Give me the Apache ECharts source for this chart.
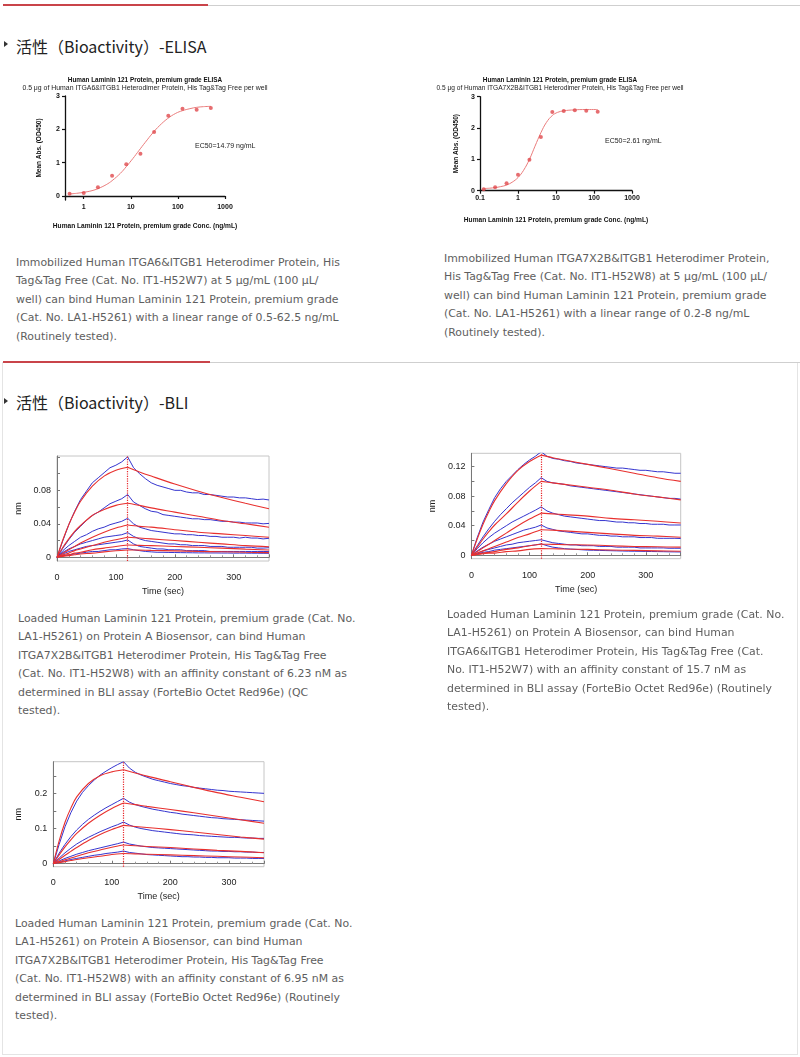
<!DOCTYPE html>
<html>
<head>
<meta charset="utf-8">
<script src="https://cdn.jsdelivr.net/npm/echarts@6/dist/echarts.min.js"></script>
<style>
  html, body { margin:0; padding:0; background:#fff; }
  body { width:800px; height:1057px; position:relative; overflow:hidden; }
  .abs { position:absolute; }
  .hdr { position:absolute; left:16px; font-family:"Noto Sans CJK SC", sans-serif; font-size:16px; line-height:24px; color:#222; white-space:nowrap; }
  .tri { position:absolute; width:0; height:0; border-left:4px solid #333; border-top:3px solid transparent; border-bottom:3px solid transparent; }
  .txt { position:absolute; font-family:"DejaVu Sans", sans-serif; font-size:10.9px; line-height:18.4px; color:#5e5e5e; white-space:nowrap; }
  .chart { position:absolute; }
</style>
</head>
<body>
<div class="abs" style="left:3px;top:4px;width:205px;height:2px;background:#c9444a;"></div>
<div class="abs" style="left:208px;top:5px;width:592px;height:1px;background:#cfcfcf;"></div>
<div class="tri" style="left:4px;top:41px;"></div>
<div class="hdr" style="top:34px;">活性（Bioactivity）-ELISA</div>

<div id="elisa1" class="chart" style="left:0;top:60px;width:290px;height:180px;"></div>
<div id="elisa2" class="chart" style="left:420px;top:60px;width:280px;height:180px;"></div>

<div class="txt" style="left:16px;top:254px;">Immobilized Human ITGA6&amp;ITGB1 Heterodimer Protein, His<br>Tag&amp;Tag Free (Cat. No. IT1-H52W7) at 5 μg/mL (100 μL/<br>well) can bind Human Laminin 121 Protein, premium grade<br>(Cat. No. LA1-H5261) with a linear range of 0.5-62.5 ng/mL<br>(Routinely tested).</div>
<div class="txt" style="left:444px;top:250px;">Immobilized Human ITGA7X2B&amp;ITGB1 Heterodimer Protein,<br>His Tag&amp;Tag Free (Cat. No. IT1-H52W8) at 5 μg/mL (100 μL/<br>well) can bind Human Laminin 121 Protein, premium grade<br>(Cat. No. LA1-H5261) with a linear range of 0.2-8 ng/mL<br>(Routinely tested).</div>

<div class="abs" style="left:2px;top:362px;width:794px;height:692px;border:1px solid #e4e4e4;border-top:none;"></div>
<div class="abs" style="left:3px;top:361px;width:207px;height:2px;background:#c9444a;"></div>
<div class="abs" style="left:210px;top:362px;width:590px;height:1px;background:#cfcfcf;"></div>
<div class="tri" style="left:4px;top:398px;"></div>
<div class="hdr" style="top:390px;">活性（Bioactivity）-BLI</div>

<div id="bli1" class="chart" style="left:0;top:440px;width:290px;height:170px;"></div>
<div id="bli2" class="chart" style="left:420px;top:440px;width:290px;height:170px;"></div>
<div id="bli3" class="chart" style="left:0;top:745px;width:290px;height:170px;"></div>

<div class="txt" style="left:18px;top:610px;">Loaded Human Laminin 121 Protein, premium grade (Cat. No.<br>LA1-H5261) on Protein A Biosensor, can bind Human<br>ITGA7X2B&amp;ITGB1 Heterodimer Protein, His Tag&amp;Tag Free<br>(Cat. No. IT1-H52W8) with an affinity constant of 6.23 nM as<br>determined in BLI assay (ForteBio Octet Red96e) (QC<br>tested).</div>
<div class="txt" style="left:447px;top:606px;">Loaded Human Laminin 121 Protein, premium grade (Cat. No.<br>LA1-H5261) on Protein A Biosensor, can bind Human<br>ITGA6&amp;ITGB1 Heterodimer Protein, His Tag&amp;Tag Free (Cat.<br>No. IT1-H52W7) with an affinity constant of 15.7 nM as<br>determined in BLI assay (ForteBio Octet Red96e) (Routinely<br>tested).</div>
<div class="txt" style="left:15px;top:915px;">Loaded Human Laminin 121 Protein, premium grade (Cat. No.<br>LA1-H5261) on Protein A Biosensor, can bind Human<br>ITGA7X2B&amp;ITGB1 Heterodimer Protein, His Tag&amp;Tag Free<br>(Cat. No. IT1-H52W8) with an affinity constant of 6.95 nM as<br>determined in BLI assay (ForteBio Octet Red96e) (Routinely<br>tested).</div>

<script>
// ---------------- ELISA data ----------------
const elisa1Conc = [0.5, 1, 2, 4, 8, 16, 31.25, 62.5, 125, 250, 500];
const elisa1OD   = [0.07, 0.09, 0.26, 0.61, 0.95, 1.27, 1.92, 2.41, 2.62, 2.59, 2.64];
const elisa1FitConc = [0.5, 0.7, 1, 1.5, 2, 3, 4, 6, 8, 11, 15, 20, 30, 40, 60, 90, 125, 180, 250, 350, 500];
const elisa1FitOD   = [0.06, 0.08, 0.11, 0.16, 0.22, 0.34, 0.46, 0.68, 0.88, 1.12, 1.37, 1.60, 1.91, 2.10, 2.32, 2.48, 2.56, 2.62, 2.66, 2.68, 2.69];
const elisa1YTicks = [0, 1, 2, 3];

const elisa2Conc = [0.125, 0.25, 0.5, 1, 2, 4, 8, 16, 31.25, 62.5, 125];
const elisa2OD   = [0.05, 0.11, 0.24, 0.51, 0.99, 1.71, 2.51, 2.54, 2.57, 2.55, 2.52];
const elisa2FitConc = [0.125, 0.18, 0.25, 0.35, 0.5, 0.7, 1, 1.4, 2, 2.8, 4, 5.6, 8, 11, 16, 30, 60, 125];
const elisa2FitOD   = [0.07, 0.08, 0.10, 0.13, 0.18, 0.27, 0.42, 0.65, 1.00, 1.42, 1.85, 2.18, 2.40, 2.50, 2.55, 2.58, 2.59, 2.59];
const elisa2YTicks = [0, 1, 2, 3];

// ---------------- BLI data ----------------
const bliTime = [0,10,20,30,40,50,60,70,80,90,100,110,120,130,140,150,160,170,180,190,200,210,220,230,240,250,260,270,280,290,300,310,320,330,340,350,360];
const bliFitTime = [0,10,20,30,40,60,80,100,120,140,160,200,240,280,320,360];
const bliSwitchTime = 120;

const bli1Blue = [
  [0,0.020,0.039,0.055,0.069,0.079,0.089,0.095,0.101,0.107,0.110,0.114,0.120,0.107,0.100,0.094,0.089,0.086,0.084,0.082,0.080,0.080,0.078,0.077,0.077,0.075,0.075,0.074,0.073,0.072,0.072,0.071,0.071,0.070,0.069,0.0695,0.0685],
  [0,0.011,0.021,0.030,0.037,0.044,0.050,0.054,0.059,0.064,0.067,0.070,0.075,0.066,0.062,0.058,0.055,0.054,0.051,0.050,0.049,0.048,0.047,0.046,0.046,0.045,0.045,0.044,0.043,0.043,0.042,0.042,0.041,0.041,0.041,0.040,0.0405],
  [0,0.008,0.014,0.019,0.024,0.027,0.031,0.034,0.036,0.039,0.041,0.043,0.0466,0.040,0.036,0.034,0.032,0.031,0.030,0.029,0.028,0.028,0.027,0.027,0.026,0.026,0.025,0.025,0.024,0.024,0.024,0.023,0.024,0.023,0.023,0.022,0.0227],
  [0,0.006,0.010,0.013,0.016,0.018,0.020,0.022,0.024,0.025,0.026,0.027,0.0295,0.025,0.022,0.020,0.019,0.018,0.017,0.016,0.016,0.015,0.015,0.014,0.014,0.014,0.013,0.013,0.013,0.012,0.012,0.012,0.012,0.012,0.011,0.011,0.0115],
  [0,0.004,0.007,0.009,0.011,0.013,0.014,0.015,0.016,0.017,0.018,0.019,0.0207,0.016,0.013,0.012,0.011,0.010,0.010,0.009,0.009,0.009,0.008,0.008,0.008,0.008,0.007,0.007,0.007,0.007,0.007,0.007,0.007,0.007,0.007,0.007,0.0068],
  [0,0.002,0.003,0.004,0.005,0.006,0.007,0.007,0.008,0.009,0.009,0.010,0.0104,0.009,0.008,0.007,0.0065,0.006,0.006,0.0058,0.0057,0.0056,0.0055,0.0054,0.0053,0.0053,0.0052,0.0052,0.0051,0.0051,0.005,0.005,0.005,0.0049,0.0049,0.0048,0.0048]
];
const bli1Red = [
  [0,0.021,0.039,0.054,0.067,0.085,0.097,0.104,0.1075,0.102,0.097,0.0875,0.079,0.0715,0.0645,0.058],
  [0,0.012,0.022,0.031,0.038,0.050,0.057,0.062,0.0645,0.062,0.059,0.054,0.049,0.044,0.040,0.036],
  [0,0.005,0.009,0.013,0.017,0.024,0.030,0.035,0.0386,0.037,0.036,0.033,0.030,0.028,0.026,0.024],
  [0,0.003,0.005,0.008,0.010,0.014,0.018,0.021,0.024,0.023,0.022,0.020,0.018,0.016,0.014,0.0127],
  [0,0.002,0.003,0.005,0.006,0.009,0.011,0.013,0.0147,0.0143,0.014,0.013,0.012,0.011,0.0098,0.0088],
  [0,0.001,0.002,0.003,0.004,0.005,0.0065,0.0078,0.0088,0.0086,0.0083,0.0077,0.0071,0.0066,0.006,0.0056]
];
const bli1YLabels = [0, 0.04, 0.08];
const bli1YTicks = [0, 0.02, 0.04, 0.06, 0.08, 0.10, 0.12];

const bli2Blue = [
  [0,0.024,0.045,0.062,0.078,0.090,0.100,0.108,0.116,0.123,0.129,0.134,0.140,0.134,0.131,0.130,0.128,0.127,0.125,0.124,0.123,0.122,0.121,0.120,0.119,0.118,0.118,0.117,0.116,0.115,0.115,0.114,0.113,0.113,0.112,0.111,0.111],
  [0,0.013,0.025,0.036,0.046,0.055,0.063,0.071,0.078,0.085,0.092,0.098,0.105,0.100,0.098,0.097,0.096,0.094,0.093,0.092,0.091,0.090,0.089,0.088,0.087,0.086,0.085,0.084,0.083,0.082,0.081,0.080,0.079,0.078,0.077,0.077,0.076],
  [0,0.009,0.017,0.024,0.030,0.035,0.040,0.045,0.049,0.053,0.057,0.061,0.0655,0.060,0.057,0.055,0.053,0.052,0.051,0.050,0.049,0.048,0.047,0.047,0.046,0.045,0.045,0.044,0.044,0.043,0.043,0.042,0.042,0.042,0.041,0.041,0.041],
  [0,0.006,0.011,0.015,0.019,0.022,0.025,0.028,0.031,0.034,0.036,0.038,0.041,0.037,0.035,0.033,0.032,0.031,0.030,0.029,0.029,0.028,0.027,0.027,0.026,0.026,0.025,0.025,0.025,0.024,0.024,0.024,0.023,0.023,0.023,0.023,0.0227],
  [0,0.003,0.006,0.008,0.010,0.012,0.014,0.015,0.017,0.018,0.019,0.020,0.021,0.019,0.017,0.016,0.015,0.014,0.014,0.013,0.013,0.013,0.012,0.012,0.012,0.011,0.011,0.011,0.011,0.010,0.010,0.010,0.010,0.010,0.0095,0.0095,0.0095],
  [0,0.002,0.004,0.005,0.007,0.008,0.009,0.010,0.011,0.012,0.013,0.014,0.0155,0.013,0.011,0.010,0.009,0.0085,0.008,0.0075,0.007,0.0068,0.0066,0.0064,0.0062,0.006,0.0058,0.0056,0.0055,0.0054,0.0052,0.0051,0.005,0.0049,0.0047,0.0046,0.0045]
];
const bli2Red = [
  [0,0.022,0.042,0.059,0.074,0.097,0.115,0.127,0.1355,0.132,0.129,0.123,0.117,0.111,0.105,0.100],
  [0,0.011,0.022,0.032,0.041,0.056,0.072,0.087,0.100,0.098,0.096,0.092,0.088,0.083,0.079,0.075],
  [0,0.005,0.010,0.015,0.020,0.030,0.040,0.049,0.057,0.056,0.055,0.053,0.050,0.048,0.046,0.0436],
  [0,0.003,0.006,0.009,0.012,0.018,0.024,0.029,0.0345,0.034,0.033,0.031,0.029,0.027,0.026,0.0245],
  [0,0.0015,0.003,0.004,0.005,0.008,0.010,0.013,0.015,0.0148,0.0145,0.014,0.013,0.012,0.0115,0.011],
  [0,0.001,0.002,0.003,0.003,0.005,0.006,0.008,0.009,0.0088,0.0085,0.008,0.0072,0.0066,0.006,0.0055]
];
const bli2YLabels = [0, 0.04, 0.08, 0.12];
const bli2YTicks = [0, 0.02, 0.04, 0.06, 0.08, 0.10, 0.12];

const bli3Blue = [
  [0,0.055,0.105,0.145,0.178,0.203,0.222,0.238,0.252,0.263,0.273,0.282,0.290,0.272,0.260,0.252,0.246,0.240,0.236,0.232,0.228,0.225,0.222,0.220,0.217,0.215,0.213,0.211,0.209,0.208,0.206,0.205,0.204,0.203,0.202,0.201,0.200],
  [0,0.030,0.055,0.077,0.096,0.112,0.126,0.138,0.149,0.159,0.168,0.177,0.186,0.175,0.168,0.163,0.159,0.155,0.152,0.149,0.146,0.144,0.141,0.139,0.137,0.135,0.133,0.131,0.130,0.128,0.127,0.126,0.125,0.124,0.123,0.122,0.121],
  [0,0.016,0.031,0.044,0.056,0.066,0.075,0.083,0.091,0.098,0.105,0.111,0.1185,0.110,0.104,0.100,0.097,0.094,0.092,0.090,0.088,0.086,0.084,0.083,0.082,0.080,0.079,0.078,0.077,0.076,0.075,0.075,0.074,0.073,0.073,0.072,0.072],
  [0,0.008,0.015,0.021,0.027,0.032,0.037,0.041,0.045,0.049,0.053,0.057,0.0615,0.056,0.053,0.050,0.048,0.046,0.045,0.044,0.043,0.042,0.041,0.040,0.039,0.038,0.037,0.036,0.036,0.035,0.035,0.034,0.034,0.033,0.033,0.032,0.032],
  [0,0.004,0.008,0.012,0.015,0.018,0.021,0.024,0.026,0.029,0.031,0.033,0.036,0.032,0.030,0.028,0.026,0.025,0.024,0.023,0.022,0.021,0.020,0.020,0.019,0.019,0.018,0.018,0.017,0.017,0.017,0.016,0.016,0.016,0.015,0.015,0.015]
];
const bli3Red = [
  [0,0.065,0.118,0.158,0.190,0.228,0.250,0.261,0.267,0.258,0.249,0.233,0.217,0.202,0.189,0.176],
  [0,0.025,0.048,0.068,0.086,0.115,0.138,0.157,0.1725,0.168,0.163,0.154,0.145,0.135,0.125,0.115],
  [0,0.012,0.024,0.035,0.046,0.066,0.083,0.097,0.109,0.106,0.103,0.097,0.090,0.083,0.076,0.070],
  [0,0.006,0.011,0.016,0.021,0.031,0.039,0.047,0.053,0.051,0.049,0.046,0.042,0.038,0.035,0.031],
  [0,0.003,0.006,0.009,0.012,0.017,0.021,0.026,0.029,0.028,0.027,0.025,0.023,0.021,0.019,0.017]
];
const bli3YLabels = [0, 0.1, 0.2];
const bli3YTicks = [0, 0.05, 0.1, 0.15, 0.2, 0.25];

// ---------------- helpers ----------------
function pairs(xs, ys) { return ys.map(function (y, i) { return [xs[i], y]; }); }
const ELISA_FONT = '"Liberation Sans", Arial, sans-serif';
const BLI_FONT = '"Liberation Sans", Arial, sans-serif';
const RED_DOT = '#e0484c';
const RED_FIT = '#ea7c7c';
const MARK_RED = '#e8262a';

function elisaOption(o) {
  return {
    animation: false,
    title: [
      { text: 'Human Laminin 121 Protein, premium grade ELISA', left: 'center', top: o.titleTop,
        textStyle: { fontFamily: ELISA_FONT, fontSize: 6.4, fontWeight: 'bold', color: '#111' } },
      { text: o.subtitle, left: 'center', top: o.titleTop + 8,
        textStyle: { fontFamily: ELISA_FONT, fontSize: o.subSize, fontWeight: 'normal', color: '#222' } }
    ],
    grid: { left: o.left, top: o.top, width: o.width, height: o.height },
    xAxis: {
      type: 'log', logBase: 10, min: o.xMin, max: 1000,
      axisLine: { show: true, lineStyle: { color: '#111', width: 1.3 } },
      axisTick: { show: true, length: 3, lineStyle: { color: '#111', width: 1.2 } },
      splitLine: { show: false }, minorTick: { show: false },
      axisLabel: { showMinLabel: o.showMinLabel, fontFamily: ELISA_FONT, fontSize: 7, fontWeight: 'bold', color: '#111', margin: 4,
        formatter: function (v) { return v < 1 ? Number(v).toFixed(1) : String(Math.round(v)); } },
      name: 'Human Laminin 121 Protein, premium grade Conc. (ng/mL)', nameLocation: 'middle', nameGap: o.xNameGap,
      nameTextStyle: { fontFamily: ELISA_FONT, fontSize: 6.6, fontWeight: 'bold', color: '#111' }
    },
    yAxis: {
      type: 'value', min: o.yMin, max: 3,
      axisLine: { show: true, lineStyle: { color: '#111', width: 1.3 } },
      axisTick: { show: true, length: 3, customValues: o.yTicks, lineStyle: { color: '#111', width: 1.2 } },
      splitLine: { show: false },
      axisLabel: { customValues: o.yTicks, fontFamily: ELISA_FONT, fontSize: 7, fontWeight: 'bold', color: '#111', margin: 5 },
      name: 'Mean Abs. (OD450)', nameLocation: 'middle', nameGap: o.yNameGap, nameRotate: 90,
      nameTextStyle: { fontFamily: ELISA_FONT, fontSize: 6.5, fontWeight: 'bold', color: '#111' }
    },
    graphic: [{ type: 'text', left: o.ecX, top: o.ecY,
      style: { text: o.ec50, font: '7px ' + ELISA_FONT, fill: '#222' } }],
    series: [
      { type: 'line', data: pairs(o.fitX, o.fitY), smooth: 0.4, symbol: 'none',
        lineStyle: { color: RED_FIT, width: 1 }, z: 2 },
      { type: 'scatter', data: pairs(o.x, o.y), symbol: 'circle', symbolSize: 4,
        itemStyle: { color: RED_DOT }, z: 3 }
    ]
  };
}

function bliOption(o) {
  const series = [];
  o.blue.forEach(function (b) {
    series.push({ type: 'line', data: pairs(bliTime, b), symbol: 'none', showSymbol: false,
      lineStyle: { color: '#3535cf', width: 1 }, itemStyle: { color: '#3535cf' }, z: 2 });
  });
  const k = bliFitTime.indexOf(bliSwitchTime);
  o.red.forEach(function (r) {
    const all = pairs(bliFitTime, r);
    series.push({ type: 'line', data: all.slice(0, k + 1), smooth: 0.35, symbol: 'none',
      lineStyle: { color: '#e8302e', width: 1.1 }, itemStyle: { color: '#e8302e' }, z: 3 });
    series.push({ type: 'line', data: all.slice(k), smooth: 0.35, symbol: 'none',
      lineStyle: { color: '#e8302e', width: 1.1 }, itemStyle: { color: '#e8302e' }, z: 3 });
  });
  // vertical dotted marker at the association/dissociation switch
  series.push({ type: 'line', data: [], symbol: 'none', z: 5, color: MARK_RED,
    itemStyle: { color: MARK_RED }, lineStyle: { color: MARK_RED },
    markLine: { silent: true, symbol: ['none', 'none'], label: { show: false },
      itemStyle: { color: MARK_RED },
      lineStyle: { color: MARK_RED, type: 'dotted', width: 1.2, opacity: 1 },
      emphasis: { disabled: true },
      data: [{ xAxis: bliSwitchTime, itemStyle: { color: MARK_RED },
        lineStyle: { color: MARK_RED, type: 'dotted', width: 1.2 } }] } });
  return {
    animation: false,
    color: [MARK_RED],
    grid: { left: o.left, top: o.top, width: o.width, height: o.height, show: true,
      borderColor: '#c6c6c6', borderWidth: 1, backgroundColor: '#fff' },
    xAxis: {
      type: 'value', min: 0, max: 360, interval: 100,
      axisLine: { show: true, lineStyle: { color: '#777', width: 1 } },
      axisTick: { show: true, inside: true, length: 3, lineStyle: { color: '#777' } },
      minorTick: { show: true, splitNumber: 5, length: 2, lineStyle: { color: '#999' } },
      splitLine: { show: false }, minorSplitLine: { show: false },
      axisLabel: { showMaxLabel: false, fontFamily: BLI_FONT, fontSize: 9, color: '#222', margin: o.xLabelMargin },
      name: 'Time (sec)', nameLocation: 'middle', nameGap: o.xNameGap,
      nameTextStyle: { fontFamily: BLI_FONT, fontSize: 9, color: '#222' }
    },
    yAxis: {
      type: 'value', min: o.yMin, max: o.yMax,
      axisLine: { show: true, lineStyle: { color: '#777', width: 1 } },
      axisTick: { show: true, inside: true, length: 3, customValues: o.yTicks, lineStyle: { color: '#777' } },
      splitLine: { show: false },
      axisLabel: { customValues: o.yLabels, fontFamily: BLI_FONT, fontSize: 9, color: '#222', margin: 6 },
      name: 'nm', nameLocation: 'middle', nameGap: o.yNameGap, nameRotate: 90,
      nameTextStyle: { fontFamily: BLI_FONT, fontSize: 9, color: '#222' }
    },
    series: series
  };
}

// ---------------- render ----------------
echarts.init(document.getElementById('elisa1')).setOption(elisaOption({
  subtitle: '0.5 μg of Human ITGA6&ITGB1 Heterodimer Protein, His Tag&Tag Free per well', subSize: 6.9,
  titleTop: 12, left: 65, top: 36, width: 160, height: 104,
  xMin: 0.4, showMinLabel: false, yMin: -0.12, yTicks: elisa1YTicks,
  xNameGap: 23, yNameGap: 22,
  x: elisa1Conc, y: elisa1OD, fitX: elisa1FitConc, fitY: elisa1FitOD,
  ec50: 'EC50=14.79 ng/mL', ecX: 195, ecY: 83
}));
echarts.init(document.getElementById('elisa2')).setOption(elisaOption({
  subtitle: '0.5 μg of Human ITGA7X2B&ITGB1 Heterodimer Protein, His Tag&Tag Free per well', subSize: 6.6,
  titleTop: 12, left: 60, top: 36.7, width: 152, height: 94,
  xMin: 0.1, showMinLabel: true, yMin: 0, yTicks: elisa2YTicks,
  xNameGap: 26, yNameGap: 20,
  x: elisa2Conc, y: elisa2OD, fitX: elisa2FitConc, fitY: elisa2FitOD,
  ec50: 'EC50=2.61 ng/mL', ecX: 185, ecY: 78
}));

echarts.init(document.getElementById('bli1')).setOption(bliOption({
  left: 57, top: 16, width: 212, height: 105, yMin: -0.0044, yMax: 0.121,
  yLabels: bli1YLabels, yTicks: bli1YTicks, xLabelMargin: 12, xNameGap: 24, yNameGap: 30,
  blue: bli1Blue, red: bli1Red
}));
echarts.init(document.getElementById('bli2')).setOption(bliOption({
  left: 49.3, top: 13.3, width: 211.4, height: 105.4, yMin: -0.0046, yMax: 0.138,
  yLabels: bli2YLabels, yTicks: bli2YTicks, xLabelMargin: 12, xNameGap: 22, yNameGap: 31,
  blue: bli2Blue, red: bli2Red
}));
echarts.init(document.getElementById('bli3')).setOption(bliOption({
  left: 53.3, top: 16.7, width: 210.7, height: 105, yMin: -0.0085, yMax: 0.29,
  yLabels: bli3YLabels, yTicks: bli3YTicks, xLabelMargin: 11, xNameGap: 22, yNameGap: 30,
  blue: bli3Blue, red: bli3Red
}));
</script>
</body>
</html>
